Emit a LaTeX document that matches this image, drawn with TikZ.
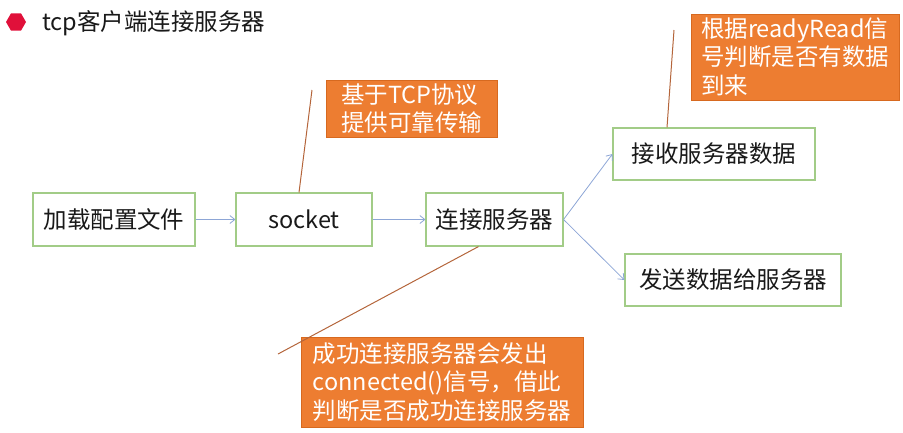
\documentclass[tikz,border=0pt]{standalone}
\usepackage{fontspec}
\setmainfont{Noto Sans CJK SC}
\usepackage{tikz}
\usetikzlibrary{shapes.geometric,arrows.meta,calc}

\definecolor{boxgreen}{HTML}{A2CC87}
\definecolor{noteorange}{HTML}{ED7D31}
\definecolor{noteedge}{HTML}{D7691F}
\definecolor{arrowblue}{HTML}{8DA6D6}
\definecolor{pinbrown}{HTML}{B4653B}
\definecolor{bulletred}{HTML}{E0103A}

\begin{document}
\begin{tikzpicture}[x=1pt, y=-1pt,
        stepbox/.style={draw=boxgreen, line width=1.1pt, fill=white, minimum height=53pt,
            inner sep=0pt, font=\fontsize{23.5}{28.5}\selectfont, text=black!90},
        notebox/.style={draw=noteedge, line width=0.8pt, fill=noteorange, text=white, align=left,
            inner sep=0pt, font=\fontsize{23.5}{28.5}\selectfont},
        flow/.style={draw=arrowblue, line width=0.8pt, -{Straight Barb[length=5pt,width=8pt]}},
        pin/.style={draw=pinbrown, line width=1pt}]
        \useasboundingbox (0,0) rectangle (903,432);
        \node[shape=regular polygon, regular polygon sides=6, fill=bulletred, minimum size=20pt, inner sep=0pt] (dot) at (16,22) {};
        \node[anchor=west, inner sep=0pt, font=\fontsize{23.5}{28}\selectfont, text=black!90] (title) at (42,23) {tcp客户端连接服务器};

        \node[stepbox, minimum width=162pt] (cfg) at (114,219.5) {加载配置文件};
        \node[stepbox, minimum width=136pt] (sock) at (304,219.5) {socket};
        \node[stepbox, minimum width=137pt] (conn) at (494.5,219.5) {连接服务器};
        \node[stepbox, minimum width=202pt, minimum height=52pt] (recv) at (714,154) {接收服务器数据};
        \node[stepbox, minimum width=216pt, minimum height=52pt] (send) at (733,280) {发送数据给服务器};

        \node[notebox, minimum width=171pt, minimum height=57pt] (n1) at (411.5,108.5) {基于TCP协议\\提供可靠传输};
        \node[notebox, minimum width=208pt, minimum height=86pt] (n3) at (795,57) {根据readyRead信\\号判断是否有数据\\到来};
        \node[notebox, minimum width=282pt, minimum height=90pt] (n2) at (442,382) {成功连接服务器会发出\\connected()信号，借此\\判断是否成功连接服务器};

        \coordinate (p1) at (312,90);
        \coordinate (p2) at (278,354);
        \coordinate (p3) at (674,30);
        \draw[pin] ($(sock.north)+(-5,0)$) -- (p1);
        \draw[pin] ($(conn.south)+(-16,0)$) -- (p2);
        \draw[pin] ($(recv.north)+(-47,0)$) -- (p3);

        \draw[flow] (cfg) -- (sock);
        \draw[flow] (sock) -- (conn);
        \draw[flow] (conn.east) -- (recv.west);
        \draw[flow] (conn.east) -- (send.west);
    \end{tikzpicture}
\end{document}
